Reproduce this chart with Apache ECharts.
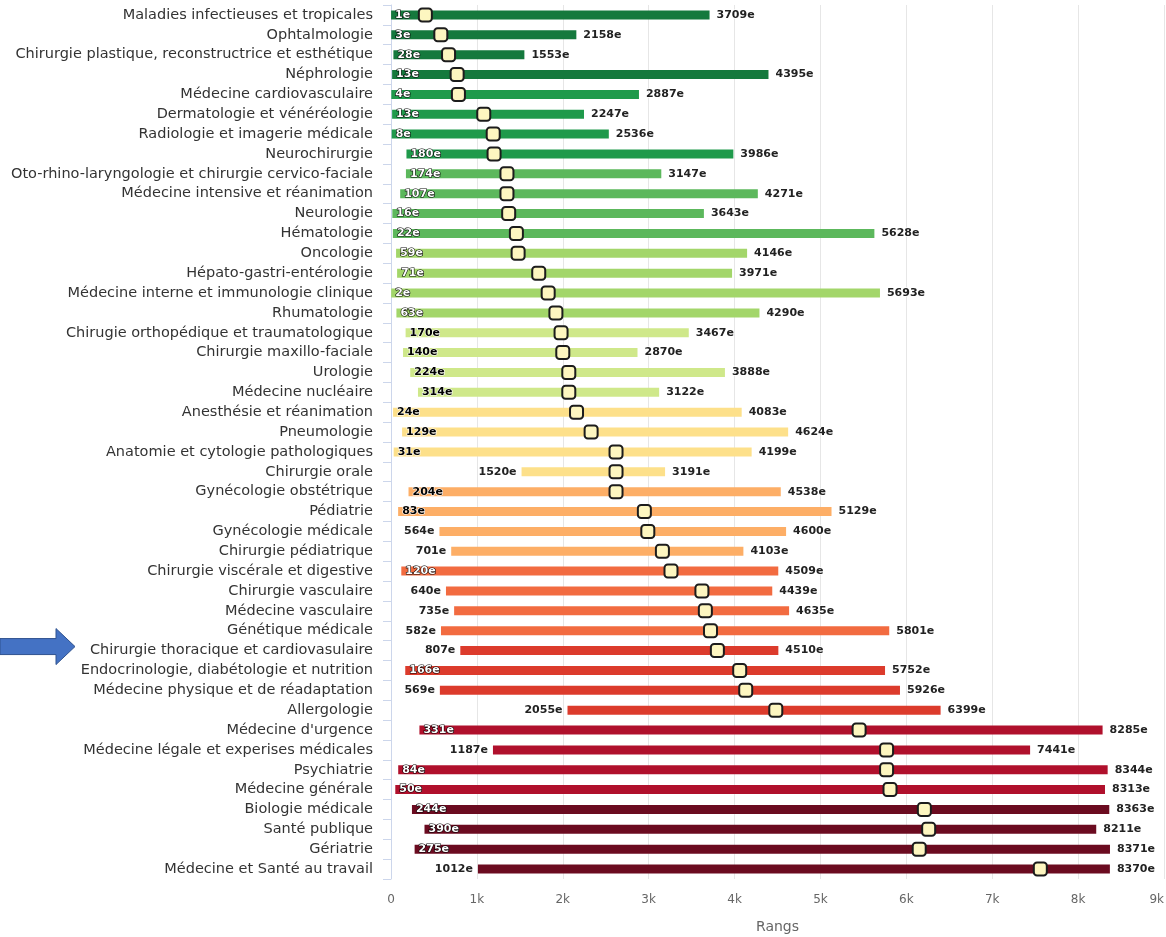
<!DOCTYPE html>
<html>
<head>
<meta charset="utf-8">
<script src="https://cdn.jsdelivr.net/npm/echarts@6/dist/echarts.min.js"></script>
<style>
  html, body { margin: 0; padding: 0; background: #fff; }
  #chart { width: 1166px; height: 937px; }
</style>
</head>
<body>
<div id="chart"></div>
<script>
// ---- data ----
const categories = [
  "Maladies infectieuses et tropicales",
  "Ophtalmologie",
  "Chirurgie plastique, reconstructrice et esthétique",
  "Néphrologie",
  "Médecine cardiovasculaire",
  "Dermatologie et vénéréologie",
  "Radiologie et imagerie médicale",
  "Neurochirurgie",
  "Oto-rhino-laryngologie et chirurgie cervico-faciale",
  "Médecine intensive et réanimation",
  "Neurologie",
  "Hématologie",
  "Oncologie",
  "Hépato-gastri-entérologie",
  "Médecine interne et immunologie clinique",
  "Rhumatologie",
  "Chirugie orthopédique et traumatologique",
  "Chirurgie maxillo-faciale",
  "Urologie",
  "Médecine nucléaire",
  "Anesthésie et réanimation",
  "Pneumologie",
  "Anatomie et cytologie pathologiques",
  "Chirurgie orale",
  "Gynécologie obstétrique",
  "Pédiatrie",
  "Gynécologie médicale",
  "Chirurgie pédiatrique",
  "Chirurgie viscérale et digestive",
  "Chirurgie vasculaire",
  "Médecine vasculaire",
  "Génétique médicale",
  "Chirurgie thoracique et cardiovasulaire",
  "Endocrinologie, diabétologie et nutrition",
  "Médecine physique et de réadaptation",
  "Allergologie",
  "Médecine d'urgence",
  "Médecine légale et experises médicales",
  "Psychiatrie",
  "Médecine générale",
  "Biologie médicale",
  "Santé publique",
  "Gériatrie",
  "Médecine et Santé au travail"
];
const minRanks = [
  1, 3, 28, 13, 4, 13, 8, 180, 174, 107, 16,
  22, 59, 71, 2, 63, 170, 140, 224, 314, 24, 129,
  31, 1520, 204, 83, 564, 701, 120, 640, 735, 582,
  807, 166, 569, 2055, 331, 1187, 84, 50, 244, 390,
  275, 1012
];
const maxRanks = [
  3709, 2158, 1553, 4395, 2887, 2247, 2536, 3986, 3147, 4271, 3643,
  5628, 4146, 3971, 5693, 4290, 3467, 2870, 3888, 3122, 4083, 4624,
  4199, 3191, 4538, 5129, 4600, 4103, 4509, 4439, 4635, 5801,
  4510, 5752, 5926, 6399, 8285, 7441, 8344, 8313, 8363, 8211,
  8371, 8370
];
const medianRanks = [
  400, 580, 670, 770, 785, 1080, 1190, 1200, 1350, 1350, 1370,
  1460, 1480, 1720, 1830, 1920, 1980, 2000, 2070, 2070, 2160, 2330,
  2620, 2620, 2620, 2950, 2990, 3160, 3260, 3620, 3660, 3720,
  3800, 4060, 4130, 4480, 5450, 5770, 5770, 5810, 6210, 6260,
  6150, 7560
];
const xTicks = ["0", "1k", "2k", "3k", "4k", "5k", "6k", "7k", "8k", "9k"];
const xAxisTitle = "Rangs";
const arrowCategory = "Chirurgie thoracique et cardiovasulaire";

// ---- styles ----
const groupColors = ["#15793d", "#1f9a4b", "#5cb85c", "#a3d66a", "#cfe88a",
                     "#fde08a", "#fdae66", "#f26b40", "#dc3b2c", "#b0102c", "#6b0b20"];
const rowsPerGroup = 4;
const FONT = '"DejaVu Sans", Verdana, sans-serif';
const LABEL_FONT = 'bold 11px ' + FONT;

const measureCtx = document.createElement('canvas').getContext('2d');
measureCtx.font = LABEL_FONT;
function textW(s) { return measureCtx.measureText(s).width; }

function isLight(hex) {
  const r = parseInt(hex.slice(1, 3), 16), g = parseInt(hex.slice(3, 5), 16), b = parseInt(hex.slice(5, 7), 16);
  return r + g + b > 510;
}

const rangeData = categories.map((c, i) => [i, minRanks[i], maxRanks[i]]);
const medianData = categories.map((c, i) => [medianRanks[i], i]);

function renderRange(params, api) {
  const idx = api.value(0);
  const lo = api.value(1), hi = api.value(2);
  const p0 = api.coord([lo, idx]);
  const p1 = api.coord([hi, idx]);
  const h = 9;
  const color = groupColors[Math.floor(idx / rowsPerGroup)];
  const plotLeft = params.coordSys.x;
  const pad = 5;
  const loText = lo + 'e', hiText = hi + 'e';
  const w = textW(loText);
  const inside = p0[0] - pad - w < plotLeft + 2;
  let loStyle;
  if (inside) {
    const light = isLight(color);
    loStyle = {
      text: loText, x: p0[0] + 4, y: p0[1], align: 'left', verticalAlign: 'middle',
      font: LABEL_FONT, fill: light ? '#000' : '#fff',
      stroke: light ? '#fff' : '#000', lineWidth: 1.2
    };
  } else {
    loStyle = {
      text: loText, x: p0[0] - pad, y: p0[1], align: 'right', verticalAlign: 'middle',
      font: LABEL_FONT, fill: '#222', stroke: '#fff', lineWidth: 1.5
    };
  }
  return {
    type: 'group',
    children: [
      { type: 'rect', shape: { x: p0[0], y: p0[1] - h / 2, width: p1[0] - p0[0], height: h },
        style: { fill: color } },
      { type: 'text', z2: 5, style: loStyle },
      { type: 'text', z2: 5, style: {
          text: hiText, x: p1[0] + 7, y: p1[1], align: 'left', verticalAlign: 'middle',
          font: LABEL_FONT, fill: '#222', stroke: '#fff', lineWidth: 1.5 } }
    ]
  };
}

const chart = echarts.init(document.getElementById('chart'), null, { renderer: 'canvas' });
const option = {
  animation: false,
  backgroundColor: '#fff',
  grid: { left: 391, right: 2, top: 5, bottom: 58, containLabel: false, outerBoundsMode: 'none' },
  xAxis: {
    type: 'value', min: 0, max: 9000, interval: 1000,
    name: xAxisTitle, nameLocation: 'middle', nameGap: 41,
    nameTextStyle: { fontFamily: FONT, fontSize: 14, color: '#666' },
    axisLine: { show: false }, axisTick: { show: false },
    axisLabel: {
      fontFamily: FONT, fontSize: 12, color: '#666', margin: 15, alignMaxLabel: 'right',
      formatter: v => xTicks[Math.round(v / 1000)]
    },
    splitLine: { show: true, lineStyle: { color: '#e6e6e6', width: 1 } }
  },
  yAxis: {
    type: 'category', data: categories, inverse: true,
    axisLine: { show: true, lineStyle: { color: '#ccd6eb' } },
    axisTick: { show: true, length: 8, lineStyle: { color: '#ccd6eb' } },
    axisLabel: { fontFamily: FONT, fontSize: 14.5, color: '#333', margin: 18 },
    splitLine: { show: false }
  },
  series: [
    {
      type: 'custom', renderItem: renderRange, data: rangeData,
      encode: { x: [1, 2], y: 0 }, z: 2
    },
    {
      type: 'scatter', data: medianData, symbol: 'roundRect', symbolSize: 13, z: 4,
      itemStyle: { color: '#fdf6c0', borderColor: '#1c1c1c', borderWidth: 2, opacity: 1 }
    }
  ]
};
chart.setOption(option);

// annotation arrow anchored on the highlighted category row
const yc = chart.convertToPixel({ yAxisIndex: 0 }, arrowCategory) - 4;
chart.setOption({
  graphic: [{
    type: 'polygon',
    shape: { points: [[0, yc - 8], [56, yc - 8], [56, yc - 18], [75, yc], [56, yc + 18], [56, yc + 8], [0, yc + 8]] },
    style: { fill: '#4472c4', stroke: '#2f528f', lineWidth: 1 }
  }]
});
</script>
</body>
</html>
